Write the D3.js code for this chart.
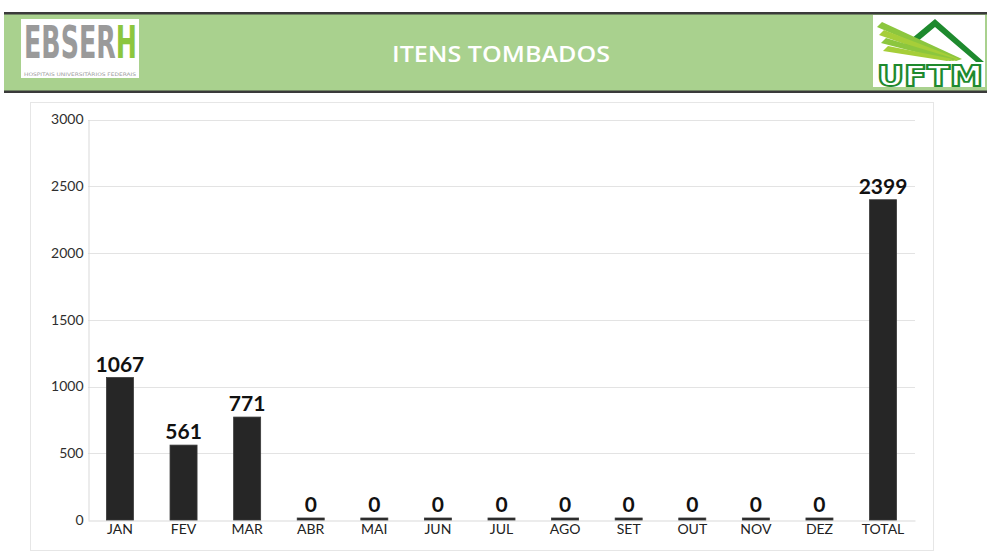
<!DOCTYPE html>
<html><head><meta charset="utf-8">
<script src="https://cdn.jsdelivr.net/npm/d3@7"></script>
<style>body{margin:0;background:#fff}svg{display:block}</style>
</head><body>
<script>
const categories = ["JAN","FEV","MAR","ABR","MAI","JUN","JUL","AGO","SET","OUT","NOV","DEZ","TOTAL"];
const values = [1067,561,771,0,0,0,0,0,0,0,0,0,2399];
const yTicks = [0,500,1000,1500,2000,2500,3000];
const title = "ITENS TOMBADOS";

const W=987,H=555;
const svg=d3.select("body").append("svg").attr("width",W).attr("height",H);
const font="Lato, 'Open Sans', sans-serif";

// header
svg.append("rect").attr("x",4).attr("y",12).attr("width",W-4).attr("height",81).attr("fill","#a9d18e");
svg.append("rect").attr("x",4).attr("y",12).attr("width",W-4).attr("height",2.5).attr("fill","#3a3a3a");
svg.append("rect").attr("x",4).attr("y",90.5).attr("width",W-4).attr("height",2.5).attr("fill","#3a3a3a");
svg.append("text").attr("x",501).attr("y",62).attr("text-anchor","middle").attr("fill","#fff")
  .attr("font-family","'Open Sans', sans-serif").attr("font-weight",600).attr("font-size",22).attr("textLength",218).attr("lengthAdjust","spacingAndGlyphs").text(title);

// EBSERH logo
const defs=svg.append("defs");
const lg=defs.append("linearGradient").attr("id","ebg").attr("gradientUnits","userSpaceOnUse").attr("x1",24).attr("x2",137).attr("y1",0).attr("y2",0);
lg.append("stop").attr("offset",0).attr("stop-color","#9a9a9a");
lg.append("stop").attr("offset",0.835).attr("stop-color","#9a9a9a");
lg.append("stop").attr("offset",0.835).attr("stop-color","#8cc63e");
lg.append("stop").attr("offset",1).attr("stop-color","#8cc63e");
const eg=svg.append("g");
eg.append("rect").attr("x",21).attr("y",19).attr("width",118).attr("height",59).attr("fill","#fff");
eg.append("text").attr("x",24).attr("y",58).attr("font-family","'DejaVu Sans Condensed', sans-serif").attr("font-weight","bold").attr("font-size",44)
  .attr("fill","url(#ebg)").attr("textLength",113).attr("lengthAdjust","spacingAndGlyphs").text("EBSERH");
eg.append("text").attr("x",24).attr("y",75.5).attr("font-family","'DejaVu Sans Condensed', sans-serif").attr("font-size",4.8).attr("fill","#9a9a9a").attr("textLength",112).attr("lengthAdjust","spacingAndGlyphs").text("HOSPITAIS UNIVERSITÁRIOS FEDERAIS");

// UFTM logo
const ug=svg.append("g");
ug.append("rect").attr("x",873).attr("y",15).attr("width",112).attr("height",72).attr("fill","#fff");
ug.append("path").attr("d","M905,44 L935,19 L984,62 L976,62 L935,27 L911,47 Z").attr("fill","#1e8a2e");
[0,1,2,3].forEach(i=>{
  ug.append("path").attr("d",`M${877+i*2},${27+i*8} L${882+i*2},${22+i*8} L${962-i*3},${59} L${956-i*3},${61} Z`).attr("fill",i%2?"#a6ce39":"#8cc63e");
});
ug.append("text").attr("x",877).attr("y",86).attr("font-family","'DejaVu Sans Condensed', sans-serif").attr("font-weight","bold").attr("font-size",28)
  .attr("fill","#fff").attr("stroke","#1e8a2e").attr("stroke-width",1.8).attr("textLength",106).attr("lengthAdjust","spacingAndGlyphs").text("UFTM");

// chart frame
svg.append("rect").attr("x",30.5).attr("y",102.5).attr("width",903).attr("height",448).attr("fill","#fff").attr("stroke","#e6e6e6");

const m={l:88,r:915,t:119.5,b:520};
const x=d3.scaleBand().domain(categories).range([m.l,m.r]).paddingInner(0.575).paddingOuter(0.29);
const y=d3.scaleLinear().domain([0,3000]).range([m.b,m.t]);

// grid
svg.append("g").selectAll("line").data(yTicks.slice(1)).join("line")
  .attr("x1",m.l).attr("x2",m.r).attr("y1",d=>Math.round(y(d))+0.5).attr("y2",d=>Math.round(y(d))+0.5)
  .attr("stroke","#e3e3e3");
// y axis
const ya=svg.append("g").attr("transform",`translate(${m.l+0.5},0)`).call(d3.axisLeft(y).tickValues(yTicks).tickFormat(d3.format("d")).tickSize(0).tickPadding(5));
ya.select(".domain").attr("stroke","#d9d9d9");
ya.selectAll("text").attr("font-family",font).attr("font-size",14).attr("fill","#2e2e2e");
// x axis
const xa=svg.append("g").attr("transform",`translate(0,${m.b+0.5})`).call(d3.axisBottom(x).tickSize(0).tickPadding(4));
xa.select(".domain").attr("stroke","#d9d9d9");
xa.selectAll("text").attr("font-family",font).attr("font-size",14).attr("fill","#222");

// bars
svg.append("g").selectAll("rect").data(values).join("rect")
  .attr("x",(d,i)=>x(categories[i])).attr("width",x.bandwidth())
  .attr("y",d=>Math.min(y(d),m.b-2)).attr("height",d=>Math.max(m.b-y(d),2))
  .attr("fill","#262626").attr("stroke","#3a3a3a").attr("stroke-width",0.8);
// labels
svg.append("g").selectAll("text").data(values).join("text")
  .attr("x",(d,i)=>x(categories[i])+x.bandwidth()/2).attr("y",d=>Math.min(y(d),m.b-2)-6)
  .attr("text-anchor","middle").attr("font-family",font).attr("font-weight","bold").attr("font-size",21).attr("fill","#111")
  .text(d=>d);
</script>
</body></html>
